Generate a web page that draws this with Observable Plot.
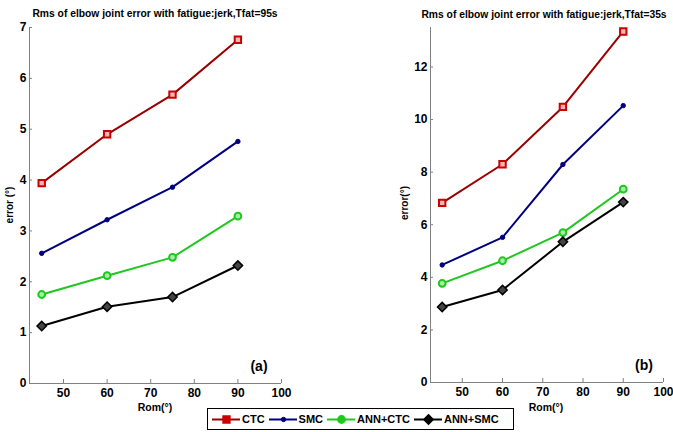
<!DOCTYPE html>
<html>
<head>
<meta charset="utf-8">
<script src="https://cdn.jsdelivr.net/npm/d3@7"></script>
<script src="https://cdn.jsdelivr.net/npm/@observablehq/plot@0.6"></script>
<style>
  html, body { margin: 0; padding: 0; background: white; }
  #wrap { position: relative; width: 673px; height: 432px; overflow: hidden; font-family: "Liberation Sans", Arial, sans-serif; }
  .abs { position: absolute; white-space: nowrap; font-weight: bold; color: black; line-height: 1; }
  svg.panel { position: absolute; top: 0; }
  #legend { position: absolute; left: 207px; top: 408px; width: 305px; height: 20px; border: 1px solid black; background: white; display: flex; align-items: center; font-weight: bold; font-size: 11px; }
  #legend span.item { display: inline-flex; align-items: center; margin-left: 4px; }
  #legend svg { margin-right: 2px; }
</style>
</head>
<body>
<div id="wrap"></div>
<script>
// ---- data ----
const rom = [45, 60, 75, 90];
const seriesNames = ["CTC", "SMC", "ANN+CTC", "ANN+SMC"];
// panel (a): Tfat = 95s
const ctcA    = [3.94, 4.90, 5.68, 6.76];
const smcA    = [2.56, 3.22, 3.86, 4.76];
const annCtcA = [1.75, 2.12, 2.48, 3.29];
const annSmcA = [1.13, 1.51, 1.70, 2.32];
// panel (b): Tfat = 35s
const ctcB    = [6.83, 8.30, 10.48, 13.35];
const smcB    = [4.47, 5.52, 8.29, 10.53];
const annCtcB = [3.77, 4.63, 5.70, 7.35];
const annSmcB = [2.87, 3.52, 5.35, 6.86];

const xTicks = [50, 60, 70, 80, 90, 100];
const yTicksA = [0, 1, 2, 3, 4, 5, 6, 7];
const yTicksB = [0, 2, 4, 6, 8, 10, 12];

const styles = {
  "CTC":     {line: "#9a0000", symbol: "square",   fill: "#f2b8b8", stroke: "#cc0000", r: 3.6, sw: 2},
  "SMC":     {line: "#000080", symbol: "circle",   fill: "#000080", stroke: "#000080", r: 2.2, sw: 1},
  "ANN+CTC": {line: "#1ec81e", symbol: "circle",   fill: "#a8eca8", stroke: "#1ec81e", r: 3.4, sw: 2},
  "ANN+SMC": {line: "#000000", symbol: "diamond2", fill: "#444444", stroke: "#000000", r: 4.2, sw: 1.5}
};

function table(arrs) {
  const rows = [];
  seriesNames.forEach((s, i) => rom.forEach((r, j) => rows.push({series: s, rom: r, err: arrs[i][j]})));
  return rows;
}

function panel({rows, yDomain, yTicks, xDomain, width, marginLeft, marginRight, marginBottom}) {
  const marks = [
    Plot.ruleY([yDomain[0]], {stroke: "#808080", strokeWidth: 1}),
    Plot.ruleX([xDomain[0]], {stroke: "#808080", strokeWidth: 1}),
    Plot.axisX({ticks: xTicks, tickSize: -4, tickPadding: 9, label: null, stroke: "#808080", fill: "black", tickFormat: d => d}),
    Plot.axisY({ticks: yTicks, tickSize: -3, tickPadding: 6, label: null, stroke: "#808080", fill: "black", tickFormat: d => d})
  ];
  for (const s of seriesNames) {
    const st = styles[s];
    const data = rows.filter(d => d.series === s);
    marks.push(Plot.line(data, {x: "rom", y: "err", stroke: st.line, strokeWidth: 2}));
  }
  for (const s of seriesNames) {
    const st = styles[s];
    const data = rows.filter(d => d.series === s);
    marks.push(Plot.dot(data, {x: "rom", y: "err", symbol: st.symbol, r: st.r, fill: st.fill, stroke: st.stroke, strokeWidth: st.sw}));
  }
  const svg = Plot.plot({
    width, height: 432,
    marginLeft, marginRight, marginTop: 27, marginBottom,
    x: {domain: xDomain},
    y: {domain: yDomain},
    style: {fontFamily: "Liberation Sans, Arial, sans-serif", fontSize: "12px", fontWeight: "bold", background: "transparent", overflow: "visible"},
    marks
  });
  svg.classList.add("panel");
  return svg;
}

const wrap = document.getElementById("wrap");

const svgA = panel({rows: table([ctcA, smcA, annCtcA, annSmcA]), yDomain: [0, 7], yTicks: yTicksA,
  xDomain: [42.2, 100], width: 337, marginLeft: 29, marginRight: 56, marginBottom: 49});
svgA.style.left = "0px";
wrap.appendChild(svgA);

const svgB = panel({rows: table([ctcB, smcB, annCtcB, annSmcB]), yDomain: [0, 13.5], yTicks: yTicksB,
  xDomain: [42.1, 100], width: 336, marginLeft: 93, marginRight: 10, marginBottom: 50});
svgB.style.left = "337px";
wrap.appendChild(svgB);

function label(text, x, y, size, opts = {}) {
  const d = document.createElement("div");
  d.className = "abs";
  d.textContent = text;
  d.style.fontSize = size + "px";
  d.style.left = x + "px";
  d.style.top = y + "px";
  d.style.transform = (opts.rotate ? "translate(-50%,-50%) rotate(-90deg)" : "translate(-50%,-50%)");
  if (opts.weight) d.style.fontWeight = opts.weight;
  wrap.appendChild(d);
  return d;
}

label("Rms of elbow joint error with fatigue:jerk,Tfat=95s", 155, 14, 10.3);
label("Rms of elbow joint error with fatigue:jerk,Tfat=35s", 544, 15, 10.3);
label("error (°)", 10, 205, 10, {rotate: true});
label("error(°)", 405, 203, 10, {rotate: true});
label("Rom(°)", 155, 407, 10.5);
label("Rom(°)", 546, 407, 10.5);
label("(a)", 259, 366, 14);
label("(b)", 644, 365, 14);

// legend
const legend = document.createElement("div");
legend.id = "legend";
for (const s of seriesNames) {
  const st = styles[s];
  const item = document.createElement("span");
  item.className = "item";
  const sw = Plot.plot({
    width: 28, height: 12, margin: 0,
    x: {domain: [0, 1], axis: null}, y: {domain: [0, 1], axis: null},
    style: {background: "transparent", overflow: "visible"},
    marks: [
      Plot.ruleY([0.5], {stroke: st.line, strokeWidth: 2}),
      Plot.dot([{x: 0.5, y: 0.5}], {x: "x", y: "y", symbol: st.symbol, r: st.r, fill: st.stroke, stroke: st.stroke, strokeWidth: st.sw})
    ]
  });
  item.appendChild(sw);
  const t = document.createElement("span");
  t.textContent = s;
  item.appendChild(t);
  legend.appendChild(item);
}
wrap.appendChild(legend);
</script>
</body>
</html>
